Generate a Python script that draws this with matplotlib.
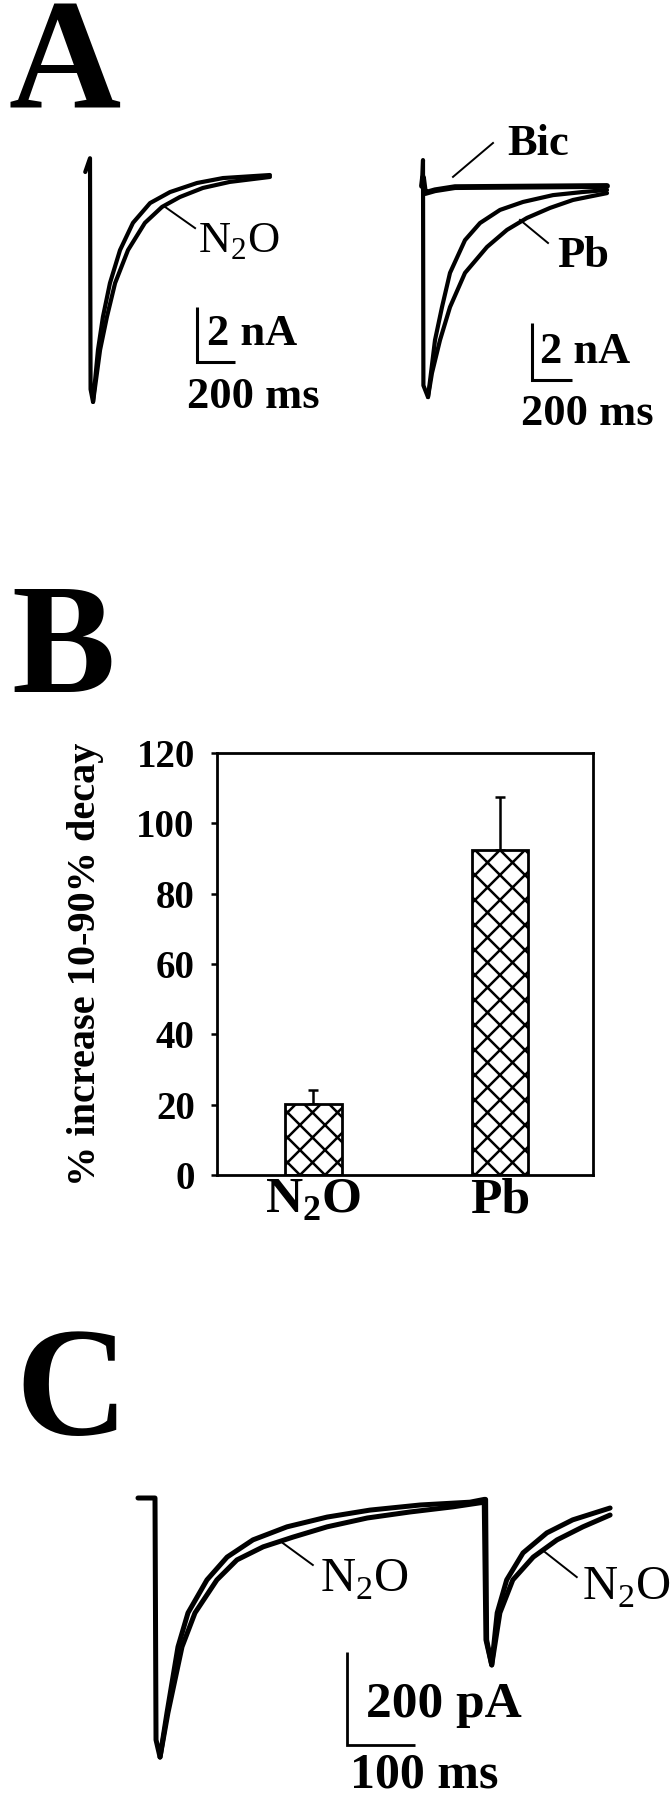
import matplotlib
matplotlib.use('Agg')
import matplotlib.pyplot as plt
import matplotlib.backend_bases as mbb
import numpy as np

# ---------------- data ----------------
# Panel A (left): whole-cell currents, time in ms, current in nA
a1_ctrl_t = [-25, 0, 3, 16, 42, 68, 105, 158, 226, 316, 421, 563, 700, 947]
a1_ctrl_i = [0, 0.5, -7.9, -8.36, -6.47, -5.27, -4.04, -2.84, -1.85, -1.13, -0.73, -0.40, -0.22, -0.11]
a1_n2o_t = [16, 53, 89, 132, 200, 289, 379, 473, 594, 736, 947]
a1_n2o_i = [-8.36, -6.47, -5.27, -4.04, -2.84, -1.85, -1.27, -0.91, -0.58, -0.36, -0.18]

# Panel A (right): control, pentobarbital, bicuculline (ms, nA)
a2_ctrl_t = [-5, 0, 2, 25, 40, 60, 95, 135, 210, 285, 385, 500, 650, 800, 920]
a2_ctrl_i = [0, 0.91, -7.0, -7.41, -6.56, -5.41, -4.25, -3.05, -1.90, -1.30, -0.84, -0.56, -0.32, -0.21, -0.14]
a2_pb_t = [25, 45, 85, 135, 210, 320, 420, 520, 635, 750, 870, 920]
a2_pb_i = [-7.41, -6.56, -5.41, -4.25, -3.05, -2.14, -1.54, -1.12, -0.77, -0.49, -0.32, -0.25]
a2_bic_t = [-5, 0, 10, 25, 60, 160, 920]
a2_bic_i = [0, 0.3, -0.25, -0.22, -0.15, -0.04, 0.0]

# Panel B: % increase in 10-90% decay
b_labels = ['N$_{\\mathbf{2}}$O', 'Pb']
b_values = [20.1, 92.5]
b_errors = [4.0, 15.0]
b_yticks = [0, 20, 40, 60, 80, 100, 120]

# Panel C: paired responses (ms, pA)
c_ctrl_t = [-25, 0, 1.5, 7.4, 17.6, 33.8, 48.5, 76.4, 106, 144, 194, 253, 316, 390, 463, 484,
            486, 487.5, 495, 503, 517, 541, 576, 614, 669]
c_ctrl_i = [0, 0, -520, -557, -462, -320, -247, -176, -127, -90, -62, -41, -26, -15, -9, -3,
            -3, -305, -359, -247, -176, -118, -75, -47, -21.5]
c_n2o_t = [7.4, 19, 39.7, 58.8, 91, 120.5, 159, 203, 253, 312, 375, 438, 484, 486.5,
           495, 507, 526, 556, 591, 629, 669]
c_n2o_i = [-557, -462, -320, -247, -176, -133, -105, -84, -62, -43, -30, -19, -9, -305,
           -359, -247, -176, -127, -90, -62, -36.6]

# ---------------- style ----------------
plt.rcParams['font.family'] = ['Liberation Serif', 'DejaVu Serif']
plt.rcParams['mathtext.fontset'] = 'custom'
plt.rcParams['mathtext.rm'] = 'Liberation Serif'
plt.rcParams['mathtext.bf'] = 'Liberation Serif:bold'
plt.rcParams['hatch.linewidth'] = 1.8

# slightly denser cross-hatching than the default
_orig_hatch_path = mbb.GraphicsContextBase.get_hatch_path


def _dense_hatch_path(self, density=8.0):
    return _orig_hatch_path(self, density)


mbb.GraphicsContextBase.get_hatch_path = _dense_hatch_path

W, H = 670, 1800
fig = plt.figure(figsize=(W / 100, H / 100), dpi=100)
fig.patch.set_facecolor('white')


def fp(x, y):
    return x / W, 1 - y / H


def trace_ax(left, right, top, bot, x0, base, sx, sy):
    ax = fig.add_axes([left / W, 1 - bot / H, (right - left) / W, (bot - top) / H])
    ax.set_xlim((left - x0) * sx, (right - x0) * sx)
    ax.set_ylim(-(bot - base) * sy, (base - top) * sy)
    ax.set_axis_off()
    ax.set_facecolor('none')
    return ax


def scalebar(ax, t, i, dt, di, lw=2.2):
    ax.plot([t, t, t + dt], [i + di, i, i], color='black', lw=lw,
            solid_joinstyle='miter', solid_capstyle='butt')


trace_kw = dict(color='black', solid_capstyle='round', solid_joinstyle='round')

# panel letters
for letter, (x, y) in zip(['A', 'B', 'C'], [(8, 108), (11, 692), (15, 1434)]):
    fig.text(*fp(x, y), letter, fontsize=112, fontweight='bold', ha='left', va='baseline')

# ---------------- Panel A left ----------------
ax = trace_ax(0, 335, 130, 440, 90, 172, 5.263, 0.03636)
ax.plot(a1_ctrl_t, a1_ctrl_i, lw=3.0, **trace_kw)
ax.plot(a1_n2o_t, a1_n2o_i, lw=3.0, **trace_kw)
ax.plot([395, 553], [-1.27, -2.04], color='black', lw=1.4)
scalebar(ax, 563, -6.91, 200, 2)
fig.text(*fp(198, 253), 'N$_{\\mathrm{2}}$O', fontsize=32, ha='left', va='baseline')
fig.text(*fp(207, 345), '2 nA', fontsize=32, fontweight='bold', ha='left', va='baseline')
fig.text(*fp(187, 408), '200 ms', fontsize=32, fontweight='bold', ha='left', va='baseline')

# ---------------- Panel A right ----------------
ax = trace_ax(335, 670, 130, 440, 423, 186, 5.0, 0.0351)
ax.plot(a2_ctrl_t, a2_ctrl_i, lw=3.0, **trace_kw)
ax.plot(a2_pb_t, a2_pb_i, lw=3.0, **trace_kw)
ax.plot(a2_bic_t, a2_bic_i, lw=4.2, **trace_kw)
ax.plot([150, 350], [0.32, 1.51], color='black', lw=1.4)
ax.plot([485, 625], [-1.19, -2.0], color='black', lw=1.4)
scalebar(ax, 545, -6.81, 200, 2)
fig.text(*fp(507, 155), 'Bic', fontsize=32, fontweight='bold', ha='left', va='baseline')
fig.text(*fp(557, 267), 'Pb', fontsize=32, fontweight='bold', ha='left', va='baseline')
fig.text(*fp(540, 363), '2 nA', fontsize=32, fontweight='bold', ha='left', va='baseline')
fig.text(*fp(521, 425), '200 ms', fontsize=32, fontweight='bold', ha='left', va='baseline')

# ---------------- Panel B ----------------
axb = fig.add_axes([217 / W, 1 - 1175 / H, 376 / W, 422 / H])
pos = np.arange(len(b_values))
axb.errorbar(pos, b_values, yerr=[np.zeros(len(b_errors)), b_errors], fmt='none',
             ecolor='black', elinewidth=1.8, capsize=3.6, capthick=1.8, zorder=1)
axb.bar(pos, b_values, width=0.30, color='white', edgecolor='black', hatch='x',
        linewidth=2.0, zorder=2)
axb.set_xlim(-0.516, 1.495)
axb.set_ylim(0, 120)
axb.set_yticks(b_yticks)
axb.set_yticklabels([str(v) for v in b_yticks], fontsize=28, fontweight='bold')
axb.set_xticks(pos)
axb.set_xticklabels(b_labels, fontsize=37, fontweight='bold')
axb.tick_params(axis='y', direction='out', length=4, width=1.8, pad=12)
axb.tick_params(axis='x', length=0, pad=2)
for sp in axb.spines.values():
    sp.set_linewidth(2.0)
fig.text(*fp(86, 964), '% increase 10-90% decay', fontsize=29, fontweight='bold',
         rotation=90, ha='center', va='center')

# ---------------- Panel C ----------------
ax = trace_ax(100, 670, 1480, 1800, 155, 1498, 1.47, 2.15)
ax.plot(c_ctrl_t, c_ctrl_i, lw=3.6, **trace_kw)
ax.plot(c_n2o_t, c_n2o_i, lw=3.6, **trace_kw)
ax.plot([188, 232], [-97, -144], color='black', lw=1.4)
ax.plot([573, 620], [-116, -170], color='black', lw=1.4)
scalebar(ax, 282, -531, 100, 200, lw=2.0)
fig.text(*fp(320, 1592), 'N$_{\\mathrm{2}}$O', fontsize=35, ha='left', va='baseline')
fig.text(*fp(582, 1600), 'N$_{\\mathrm{2}}$O', fontsize=35, ha='left', va='baseline')
fig.text(*fp(366, 1717), '200 pA', fontsize=37, fontweight='bold', ha='left', va='baseline')
fig.text(*fp(350, 1788), '100 ms', fontsize=36, fontweight='bold', ha='left', va='baseline')

fig.savefig('out.png', dpi=100, facecolor='white')
